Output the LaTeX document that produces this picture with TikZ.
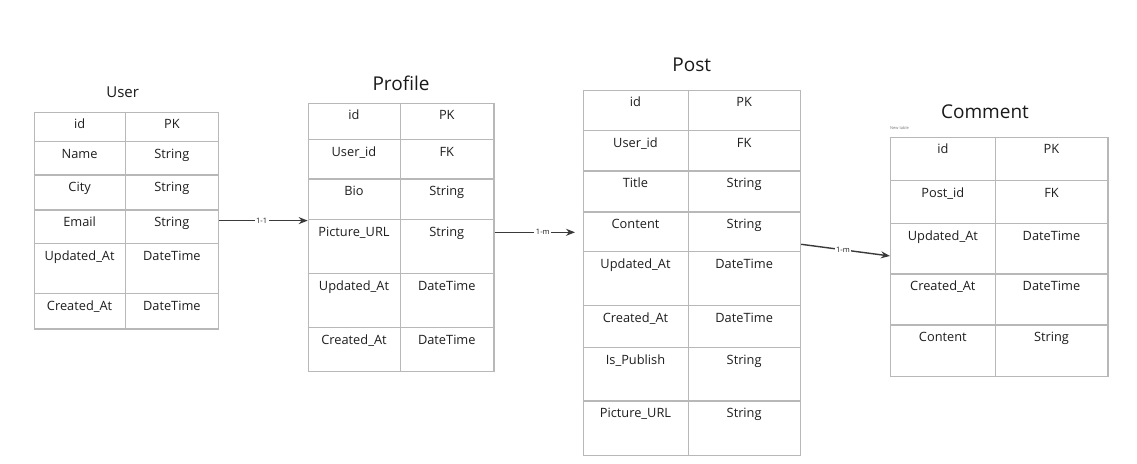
\documentclass[tikz,border=0pt]{standalone}
\usepackage{fontspec}
\setmainfont{Open Sans}
\usetikzlibrary{arrows.meta,calc}
\definecolor{gridc}{HTML}{B8B8B8}
\definecolor{txt}{HTML}{1E1E1E}
\definecolor{ttlc}{HTML}{1A1A1A}
\definecolor{arr}{HTML}{3A3A3A}
\definecolor{smallc}{HTML}{777777}
\tikzset{
  tbl/.style={draw=gridc, line width=1.2pt, inner sep=0pt, fill=white},
  gridline/.style={draw=gridc, line width=1.2pt},
  cell/.style={text=txt, font=\fontsize{12.8}{14}\selectfont, anchor=base, inner sep=0pt},
  ttl/.style={text=ttlc, font=\fontsize{19}{22}\selectfont, anchor=base, inner sep=0pt},
  ttlsmall/.style={ttl, font=\fontsize{15}{18}\selectfont},
  note/.style={text=smallc, font=\fontsize{4}{5}\selectfont, anchor=base west, inner sep=0pt},
  rel/.style={draw=arr, line width=1.4pt, -{Stealth[length=9pt,width=7pt]}},
  rlbl/.style={font=\fontsize{7.5}{8}\selectfont, text=txt, fill=white, inner sep=1.5pt},
}
% #1 name, #2 left, #3 mid, #4 right, #5 top, #6 bottom
\newcommand\erframe[6]{%
  \pgfmathsetmacro\erbw{#4-#2}\pgfmathsetmacro\erbh{#6-#5}%
  \node[tbl, minimum width=\erbw pt, minimum height=\erbh pt, anchor=north west] (#1) at (#2,#5) {};
  \draw[gridline] (#3,#5) -- (#3,#6);
}
% #1 name, #2 left, #3 mid, #4 right, #5 list of rowtop/text1/text2
\newcommand\errows[5]{%
  \pgfmathsetmacro\erca{(#2+#3)/2}\pgfmathsetmacro\ercb{(#3+#4)/2}%
  \foreach \ry/\ta/\tb [count=\ri] in {#5}{%
    \ifnum\ri>1 \draw[gridline] (#2,\ry) -- (#4,\ry);\fi
    \node[cell] (#1-a\ri) at (\erca,\ry+16.7) {\ta};
    \node[cell] (#1-b\ri) at (\ercb,\ry+16.7) {\tb};
  }%
}
\begin{document}
\begin{tikzpicture}[x=1pt,y=-1pt]
\useasboundingbox[fill=white] (0,0) rectangle (1137,463);

% User
\erframe{user}{33.5}{125.7}{218}{111.7}{328.3}
\errows{user}{33.5}{125.7}{218}{111.7/id/PK, 141.7/Name/String, 175/City/String, 210/Email/String, 243.3/Updated\_At/DateTime, 293.3/Created\_At/DateTime}
\node[ttlsmall] (usert) at (122.7,97.3) {User};

% Profile
\erframe{profile}{307.7}{400.3}{493.3}{102.7}{371}
\errows{profile}{307.7}{400.3}{493.3}{102.7/id/PK, 139.3/User\_id/FK, 179/Bio/String, 219.3/Picture\_URL/String, 273.3/Updated\_At/DateTime, 327.7/Created\_At/DateTime}
\node[ttl] (profilet) at (401,90) {Profile};

% Post
\erframe{post}{582.7}{688.3}{800}{90}{455}
\errows{post}{582.7}{688.3}{800}{90/id/PK, 130.7/User\_id/FK, 171/Title/String, 212/Content/String, 251.7/Updated\_At/DateTime, 305.7/Created\_At/DateTime, 347.7/Is\_Publish/String, 401/Picture\_URL/String}
\node[ttl] (postt) at (691.7,71.7) {Post};

% Comment
\erframe{comment}{890}{995.7}{1107.3}{136.7}{376}
\errows{comment}{890}{995.7}{1107.3}{136.7/id/PK, 180.7/Post\_id/FK, 223.3/Updated\_At/DateTime, 274/Created\_At/DateTime, 325/Content/String}
\node[ttl] (commentt) at (985,118.3) {Comment};
\node[note] (commentn) at (890,129.3) {New table};

% Relations
\draw[rel] (user.east) -- node[rlbl, pos=0.48] (l1) {1-1} (profile.west |- user.east);
\coordinate (pp) at (profile.east |- 0,232.3);
\coordinate (pq) at (575,232.3);
\draw[rel] (pp) -- node[rlbl, pos=0.6] (l2) {1-m} (pq);
\coordinate (qs) at (post.east |- 0,244.3);
\coordinate (qe) at (comment.west |- 0,256);
\draw[rel] (qs) -- node[rlbl, pos=0.47] (l3) {1-m} (qe);
\end{tikzpicture}
\end{document}
